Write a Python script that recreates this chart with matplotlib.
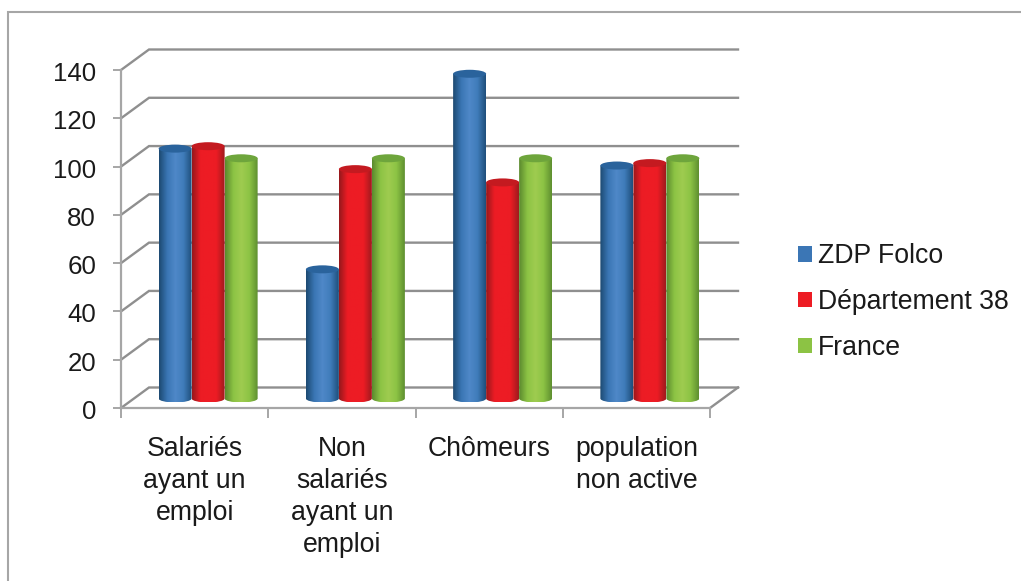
import numpy as np
import matplotlib
matplotlib.use("Agg")
import matplotlib.pyplot as plt
from matplotlib.colors import LinearSegmentedColormap
from matplotlib.patches import PathPatch, Ellipse, Rectangle, Patch
from matplotlib.path import Path
from matplotlib.transforms import ScaledTranslation

categories = ["Salariés\nayant un\nemploi", "Non\nsalariés\nayant un\nemploi", "Chômeurs", "population\nnon active"]
series_names = ["ZDP Folco", "Département 38", "France"]
zdp_folco = [103.5, 53.5, 134.5, 96.5]
departement_38 = [104.5, 95, 89.5, 97.5]
france = [99.5, 99.5, 99.5, 99.5]
y_ticks = [0, 20, 40, 60, 80, 100, 120, 140]

plt.rcParams["font.family"] = ["Liberation Sans", "DejaVu Sans"]
W, H = 1021, 581
fig = plt.figure(figsize=(W / 100, H / 100), dpi=100, facecolor="white")
fig.add_artist(Rectangle((8 / W, -0.02), 1.02 - 8 / W, 1.02 - 12 / H, transform=fig.transFigure,
                         fill=False, ec="#a6a6a6", lw=1.5))
L, R, T, B = 121, 710, 70, 408
ax = fig.add_axes([L / W, 1 - B / H, (R - L) / W, (B - T) / H])
ax.set_xlim(0, 4)
ax.set_ylim(0, 140)
ax.patch.set_visible(False)
for s in ["top", "right"]:
    ax.spines[s].set_visible(False)
grid = "#8f8f8f"
for s in ["left", "bottom"]:
    ax.spines[s].set_color("#a6a6a6")
    ax.spines[s].set_linewidth(1.6)

px_x = 4 / (R - L)
px_y = 140 / (B - T)
dx, dy = 28 * px_x, 20.5 * px_y
mx, my = 13.5 * px_x, 9.5 * px_y

for v in y_ticks:
    ax.plot([0, dx, 4 + dx], [v, v + dy, v + dy], color=grid, lw=1.7, clip_on=False, zorder=1,
            solid_joinstyle="miter")
ax.plot([4, 4 + dx], [0, dy], color=grid, lw=1.7, clip_on=False, zorder=1)

ax.set_yticks(y_ticks)
ax.set_xticks(range(5))
ax.set_xticklabels([])
ax.set_xticks(np.arange(4) + 0.5, categories, minor=True, linespacing=1.3)
ax.tick_params(axis="x", which="minor", length=0, labelsize=19.2, pad=20, colors="#1a1a1a")
ax.tick_params(axis="x", which="major", length=7, width=1.4, color="#a6a6a6")
ax.tick_params(axis="y", length=6, width=1.4, color="#a6a6a6", labelsize=18.6, pad=12, labelcolor="#1a1a1a")
shift = ScaledTranslation(0, -1.5 / 100, fig.dpi_scale_trans)
for lab in ax.get_yticklabels():
    lab.set_transform(lab.get_transform() + shift)

styles = [
    (zdp_folco, ["#1d4a72", "#3a76b4", "#4f88c8", "#3f7cba", "#1f4f7c"], "#2a639c", 2),
    (departement_38, ["#96181c", "#ec1c24", "#ee1c25", "#ec1c24", "#a01a1e"], "#c41a20", 4),
    (france, ["#5b8a2e", "#8cc344", "#9fcc50", "#8cc344", "#5f9030"], "#6ea53c", 3),
]
bw = 33 * px_x
off = [-33 * px_x, 0, 33 * px_x]
ry = 4 * px_y
k = 0.5523
for (vals, cols, topc, z), o in zip(styles, off):
    cmap = LinearSegmentedColormap.from_list("c", cols)
    for i, v in enumerate(vals):
        cx = i + 0.5 + mx + o
        x0, x1 = cx - bw / 2, cx + bw / 2
        y0, y1 = my, v + my
        verts = [(x0, y1), (x1, y1), (x1, y0),
                 (x1, y0 - k * ry), (cx + k * bw / 2, y0 - ry), (cx, y0 - ry),
                 (cx - k * bw / 2, y0 - ry), (x0, y0 - k * ry), (x0, y0), (x0, y1)]
        codes = [Path.MOVETO, Path.LINETO, Path.LINETO, Path.CURVE4, Path.CURVE4, Path.CURVE4,
                 Path.CURVE4, Path.CURVE4, Path.CURVE4, Path.CLOSEPOLY]
        patch = PathPatch(Path(verts, codes), fc="none", ec="none", transform=ax.transData)
        ax.add_patch(patch)
        im = ax.imshow(np.linspace(0, 1, 64)[None, :], extent=[x0, x1, y0 - ry, y1], cmap=cmap,
                       aspect="auto", zorder=z, interpolation="bilinear")
        im.set_clip_path(patch)
        ax.add_patch(Ellipse((cx, y1), bw, 2 * ry, fc=topc, ec="none", zorder=z + 0.1, clip_on=False))
ax.set_xlim(0, 4)
ax.set_ylim(0, 140)

handles = [Patch(fc=c, ec="none") for c in ["#3b76b5", "#ed1c24", "#8cc344"]]
fig.legend(handles, series_names, loc="center left", bbox_to_anchor=(798 / W, 1 - 302 / H), frameon=False,
           fontsize=19.2, handlelength=0.52, handleheight=0.52, handletextpad=0.22, labelspacing=0.74,
           borderpad=0, borderaxespad=0, labelcolor="#1a1a1a")
fig.savefig("out.png", dpi=100)
